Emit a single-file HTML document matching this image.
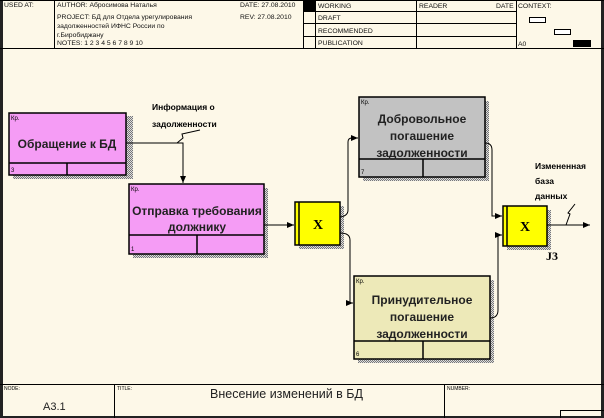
<!DOCTYPE html>
<html><head><meta charset="utf-8"><style>
html,body{margin:0;padding:0;background:#fdf8e8;}
svg{display:block;}
text{font-family:"Liberation Sans",sans-serif;}
.h{font-size:6.8px;fill:#111;}
.b{font-size:12px;font-weight:bold;fill:#222;}
</style></head><body>
<svg width="604" height="418" viewBox="0 0 604 418" xmlns="http://www.w3.org/2000/svg">
<defs>
<pattern id="sh" width="2" height="2" patternUnits="userSpaceOnUse"><rect width="2" height="2" fill="#ddd"/><rect width="1" height="1" fill="#777"/><rect x="1" y="1" width="1" height="1" fill="#777"/></pattern>
<marker id="ar" markerWidth="8" markerHeight="8" refX="7" refY="4" orient="auto" markerUnits="userSpaceOnUse"><path d="M0,1 L7,4 L0,7 z" fill="#000"/></marker>
</defs>
<rect width="604" height="418" fill="#fdf8e8"/>
<rect x="0" y="0" width="3" height="418" fill="#222"/>
<rect x="601" y="0" width="3" height="418" fill="#222"/>
<rect x="0" y="416" width="604" height="2" fill="#222"/>
<g stroke="#000" stroke-width="1" fill="none">
<line x1="0" y1="48.5" x2="604" y2="48.5"/>
<line x1="0" y1="0.5" x2="604" y2="0.5"/>
<line x1="54.5" y1="0" x2="54.5" y2="48"/>
<line x1="303.5" y1="0" x2="303.5" y2="48"/>
<line x1="315.5" y1="0" x2="315.5" y2="48"/>
<line x1="416.5" y1="0" x2="416.5" y2="48"/>
<line x1="516.5" y1="0" x2="516.5" y2="48"/>
<line x1="303" y1="11.5" x2="516" y2="11.5"/>
<line x1="303" y1="23.5" x2="516" y2="23.5"/>
<line x1="303" y1="36.5" x2="516" y2="36.5"/>
<rect x="529.5" y="17.5" width="16" height="5" fill="#fff"/>
<rect x="554.5" y="29.5" width="16" height="5" fill="#fff"/>
</g>
<rect x="303" y="0" width="12" height="11" fill="#000"/>
<rect x="573" y="40" width="18" height="7" fill="#000"/>
<text class="h" x="4" y="7">USED AT:</text>
<text class="h" x="57" y="7">AUTHOR: Абросимова Наталья</text>
<text class="h" x="57" y="19">PROJECT: БД для Отдела урегулирования</text>
<text class="h" x="57" y="28">задолженностей ИФНС России по</text>
<text class="h" x="57" y="37">г.Биробиджану</text>
<text class="h" x="57" y="45">NOTES: 1 2 3 4 5 6 7 8 9 10</text>
<text class="h" x="240" y="7">DATE: 27.08.2010</text>
<text class="h" x="240" y="19">REV: 27.08.2010</text>
<text class="h" x="318" y="8">WORKING</text>
<text class="h" x="318" y="20">DRAFT</text>
<text class="h" x="318" y="33">RECOMMENDED</text>
<text class="h" x="318" y="45">PUBLICATION</text>
<text class="h" x="419" y="8">READER</text>
<text class="h" x="496" y="8">DATE</text>
<text class="h" x="518" y="8">CONTEXT:</text>
<text class="h" x="518" y="46">A0</text>
<g stroke="#000" stroke-width="1" fill="none">
<line x1="0" y1="384.5" x2="604" y2="384.5"/>
<line x1="114.5" y1="384" x2="114.5" y2="418"/>
<line x1="444.5" y1="384" x2="444.5" y2="418"/>
<rect x="560.5" y="410.5" width="44" height="8"/>
</g>
<text x="4" y="390" style="font-size:5px">NODE:</text>
<text x="117" y="390" style="font-size:5px">TITLE:</text>
<text x="447" y="390" style="font-size:5px">NUMBER:</text>
<text x="43" y="410" style="font-size:11px;fill:#222">A3.1</text>
<text x="210" y="398" style="font-size:12.5px;fill:#222">Внесение  изменений в БД</text>
<rect x="13" y="116" width="120" height="63" fill="url(#sh)"/>
<rect x="133" y="188" width="135" height="70" fill="url(#sh)"/>
<rect x="363" y="101" width="126" height="80" fill="url(#sh)"/>
<rect x="358" y="280" width="136" height="83" fill="url(#sh)"/>
<rect x="299" y="206" width="45" height="43" fill="url(#sh)"/>
<rect x="507" y="210" width="44" height="40" fill="url(#sh)"/>
<g stroke="#000" stroke-width="1.5">
<rect x="9" y="113" width="117" height="62" fill="#f59cf5"/>
<line x1="9" y1="163" x2="126" y2="163"/><line x1="67" y1="163" x2="67" y2="175"/>
<rect x="129" y="184" width="135" height="70" fill="#f59cf5"/>
<line x1="129" y1="235" x2="264" y2="235"/><line x1="197" y1="235" x2="197" y2="254"/>
<rect x="359" y="97" width="126" height="80" fill="#c2c2c2"/>
<line x1="359" y1="159" x2="485" y2="159"/><line x1="423" y1="159" x2="423" y2="177"/>
<rect x="354" y="276" width="136" height="83" fill="#ede9b8"/>
<line x1="354" y1="341" x2="490" y2="341"/><line x1="423" y1="341" x2="423" y2="359"/>
<rect x="295" y="202" width="45" height="43" fill="#ffff00"/>
<line x1="299" y1="202" x2="299" y2="245"/>
<rect x="503" y="206" width="44" height="40" fill="#ffff00"/>
<line x1="507" y1="206" x2="507" y2="246"/>
</g>
<g font-family="Liberation Sans" font-size="6" fill="#000">
<text x="11" y="120">Кр.</text><text x="11" y="172">3</text>
<text x="131" y="191">Кр.</text><text x="131" y="251">1</text>
<text x="361" y="104">Кр.</text><text x="361" y="174">7</text>
<text x="356" y="283">Кр.</text><text x="356" y="356">6</text>
</g>
<text class="b" x="67" y="148" text-anchor="middle" font-size="13">Обращение к БД</text>
<text class="b" x="197" y="215" text-anchor="middle">Отправка требования</text>
<text class="b" x="197" y="231" text-anchor="middle">должнику</text>
<text class="b" x="422" y="123" text-anchor="middle">Добровольное</text>
<text class="b" x="422" y="140" text-anchor="middle">погашение</text>
<text class="b" x="422" y="157" text-anchor="middle">задолженности</text>
<text class="b" x="422" y="304" text-anchor="middle">Принудительное</text>
<text class="b" x="422" y="321" text-anchor="middle">погашение</text>
<text class="b" x="422" y="338" text-anchor="middle">задолженности</text>
<text x="318" y="229" text-anchor="middle" style="font-family:'Liberation Serif',serif;font-weight:bold;font-size:14px">X</text>
<text x="525" y="231" text-anchor="middle" style="font-family:'Liberation Serif',serif;font-weight:bold;font-size:14px">X</text>
<text x="546" y="260" style="font-family:'Liberation Serif',serif;font-weight:bold;font-size:12px">J3</text>
<text x="152" y="110" style="font-size:8.5px;font-weight:bold">Информация о</text>
<text x="152" y="127" style="font-size:8.5px;font-weight:bold">задолженности</text>
<text x="535" y="169" style="font-size:8.5px;font-weight:bold">Измененная</text>
<text x="535" y="184" style="font-size:8.5px;font-weight:bold">база</text>
<text x="535" y="199" style="font-size:8.5px;font-weight:bold">данных</text>
<g stroke="#000" stroke-width="1" fill="none">
<path d="M126,143 H183 V183" marker-end="url(#ar)"/>
<path d="M177,143 L183,138 L182,134 L200,130"/>
<path d="M264,225 H294" marker-end="url(#ar)"/>
<path d="M340,217 Q348,216 348,210 V142 Q348,138 352,138 H358" marker-end="url(#ar)"/>
<path d="M340,233 Q350,233 350,240 V303 H353" marker-end="url(#ar)"/>
<path d="M485,143 Q492,143 492,150 V216 H502" marker-end="url(#ar)"/>
<path d="M490,318 Q498,318 498,310 V235 H502" marker-end="url(#ar)"/>
<path d="M547,225 H590" marker-end="url(#ar)"/>
<path d="M566,225 L570,214 L568,213 L575,204"/>
</g>
</svg>
</body></html>
